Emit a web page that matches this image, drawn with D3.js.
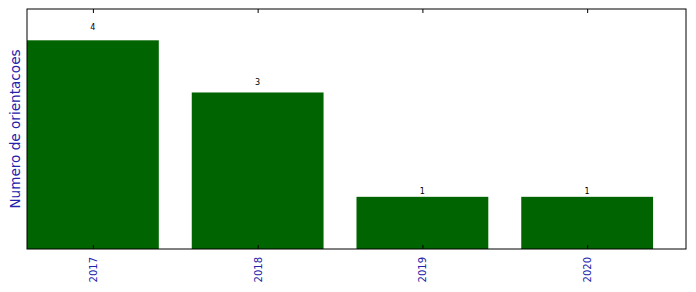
<!DOCTYPE html>
<html><head><meta charset="utf-8">
<script src="https://cdn.jsdelivr.net/npm/d3@7"></script>
<style>body{margin:0;background:#fff}svg{display:block}</style>
</head><body>
<script>
const categories = ["2017", "2018", "2019", "2020"];
const values = [4, 3, 1, 1];
const yLabel = "Numero de orientacoes";

const W = 696, H = 292;
const m = {left: 27, right: 10, top: 9, bottom: 43};
const svg = d3.select("body").append("svg").attr("width", W).attr("height", H);

const x = d3.scaleLinear().domain([-0.4, categories.length - 0.4]).range([m.left, W - m.right]);
const y = d3.scaleLinear().domain([0, d3.max(values) * 1.15]).range([H - m.bottom, m.top]);
const bw = x(0.8) - x(0);

svg.append("g").selectAll("rect").data(values).join("rect")
  .attr("x", (d, i) => x(i) - bw / 2)
  .attr("y", d => y(d))
  .attr("width", bw)
  .attr("height", d => y(0) - y(d))
  .attr("fill", "#006400");

svg.append("g").selectAll("text").data(values).join("text")
  .attr("x", (d, i) => x(i))
  .attr("y", d => y(d * 1.05))
  .attr("text-anchor", "middle")
  .attr("font-family", "DejaVu Sans")
  .attr("font-size", 8)
  .attr("fill", "#000")
  .text(d => d);

// frame
svg.append("rect").attr("x", m.left).attr("y", m.top)
  .attr("width", W - m.left - m.right).attr("height", H - m.top - m.bottom)
  .attr("fill", "none").attr("stroke", "#000").attr("stroke-width", 1);

// ticks top and bottom (inside)
const tickIdx = d3.range(categories.length);
const bottomAxis = d3.axisBottom(x).tickValues(tickIdx).tickSize(-4).tickFormat("");
const topAxis = d3.axisTop(x).tickValues(tickIdx).tickSize(-4).tickFormat("");
svg.append("g").attr("transform", `translate(0,${H - m.bottom})`).call(bottomAxis)
  .call(g => g.select(".domain").remove());
svg.append("g").attr("transform", `translate(0,${m.top})`).call(topAxis)
  .call(g => g.select(".domain").remove());

// tick labels rotated
svg.append("g").selectAll("text").data(categories).join("text")
  .attr("transform", (d, i) => `translate(${x(i) + 4},${H - m.bottom + 8}) rotate(-90)`)
  .attr("text-anchor", "end")
  .attr("font-family", "DejaVu Sans")
  .attr("font-size", 10)
  .attr("fill", "#2222aa")
  .text(d => d);

svg.append("text")
  .attr("transform", `translate(19.5,${(m.top + H - m.bottom) / 2}) rotate(-90)`)
  .attr("text-anchor", "middle")
  .attr("font-family", "DejaVu Sans")
  .attr("font-size", 13.6)
  .attr("fill", "#2222aa")
  .text(yLabel);
</script>
</body></html>
